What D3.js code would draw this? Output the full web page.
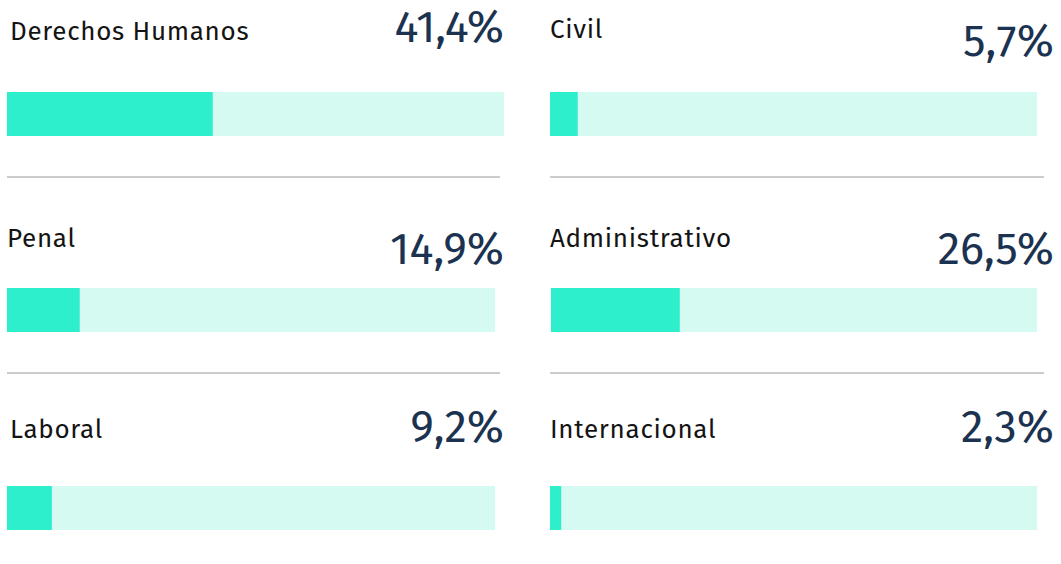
<!DOCTYPE html>
<html>
<head>
<meta charset="utf-8">
<script src="https://cdn.jsdelivr.net/npm/d3@7"></script>
<style>
  html, body { margin: 0; padding: 0; background: #fff; }
  svg { display: block; }
</style>
</head>
<body>
<div id="chart"></div>
<script>
// areas of law and their share (%)
const categories = ['Derechos Humanos', 'Civil', 'Penal', 'Administrativo', 'Laboral', 'Internacional'];
const shares = [41.4, 5.7, 14.9, 26.5, 9.2, 2.3];

const width = 1061, height = 564;
const fillColor = '#2eefcc';
const trackColor = '#d4faf2';
const ruleColor = '#cccccc';
const valueColor = '#1b3350';
const labelColor = '#141414';

// cell geometry (the original grid is slightly uneven)
const colX = [7, 550];
const barTop = [92, 288, 486];
const barH = 44;
const trackW = [497, 487, 488, 486, 488, 487];
const labelX = [10, 550, 7, 550, 10, 550];
const labelY = [40, 38, 247, 247, 438, 438];
const valueY = [42, 56, 264, 264, 442, 442];
const valueRight = [504, 1054];
const ruleY = [177, 373];
const ruleSpan = [[7, 500], [550, 1044]];

const locale = d3.formatLocale({ decimal: ',', thousands: '.', grouping: [3], currency: ['', '€'] });
const fmt = locale.format('.1f');

const svg = d3.select('#chart').append('svg')
    .attr('width', width)
    .attr('height', height)
    .style('font-family', '"Fira Sans", "Noto Sans", sans-serif');

const cells = categories.map((c, i) => ({ name: c, value: shares[i], i, col: i % 2, row: Math.floor(i / 2) }));

const cell = svg.selectAll('g.cell')
    .data(cells)
    .enter()
    .append('g')
    .attr('class', 'cell');

cell.each(function(d) {
    const g = d3.select(this);
    const x = d3.scaleLinear().domain([0, 100]).range([0, trackW[d.i]]);
    const x0 = d.col === 0 ? colX[0] : colX[1] + (d.i === 3 ? 1 : 0);
    const y0 = barTop[d.row];

    g.append('rect')
        .attr('x', x0)
        .attr('y', y0)
        .attr('width', x(100))
        .attr('height', barH)
        .attr('fill', trackColor);

    g.append('rect')
        .attr('x', x0)
        .attr('y', y0)
        .attr('width', x(d.value))
        .attr('height', barH)
        .attr('fill', fillColor);

    g.append('text')
        .attr('x', labelX[d.i])
        .attr('y', labelY[d.i])
        .attr('fill', labelColor)
        .attr('font-size', 26)
        .attr('letter-spacing', '0.7px')
        .text(d.name);

    g.append('text')
        .attr('x', valueRight[d.col])
        .attr('y', valueY[d.i])
        .attr('text-anchor', 'end')
        .attr('fill', valueColor)
        .attr('font-size', 45)
        .attr('font-weight', 400)
        .text(fmt(d.value) + '%');
});

// separators between rows
const rules = [];
ruleY.forEach(y => ruleSpan.forEach(s => rules.push({ y, x1: s[0], x2: s[1] })));
svg.append('g')
    .selectAll('line')
    .data(rules)
    .enter()
    .append('line')
    .attr('x1', d => d.x1)
    .attr('x2', d => d.x2)
    .attr('y1', d => d.y)
    .attr('y2', d => d.y)
    .attr('stroke', ruleColor)
    .attr('stroke-width', 2);
</script>
</body>
</html>
